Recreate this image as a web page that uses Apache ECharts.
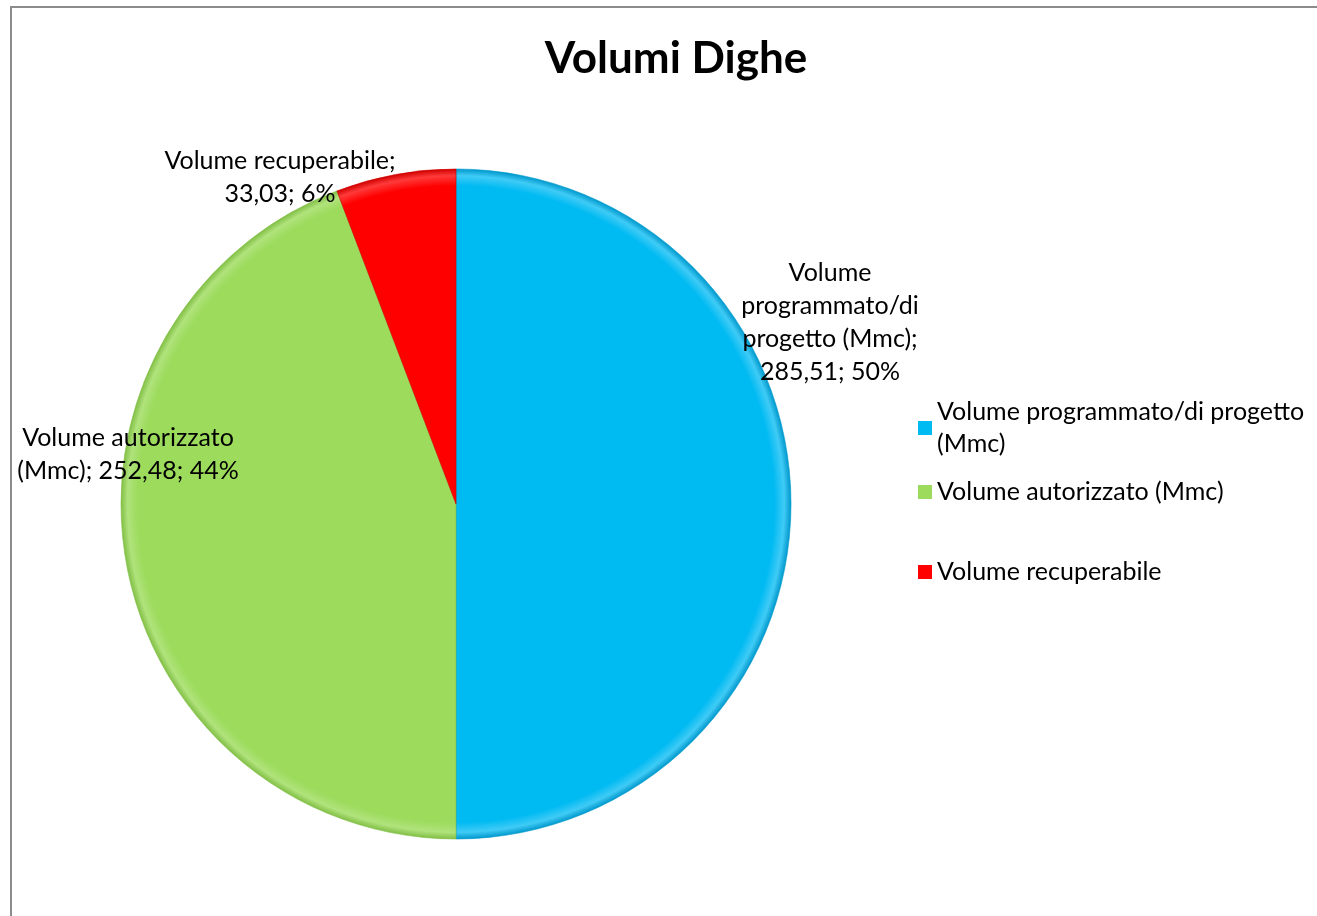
<!DOCTYPE html>
<html>
<head>
<meta charset="utf-8">
<style>
  html, body { margin: 0; padding: 0; background: #fff; }
  #frame { position: absolute; left: 10px; top: 6px; width: 1400px; height: 1000px;
           border-left: 2px solid #8c8c8c; border-top: 2px solid #8c8c8c; }
  #chart { position: absolute; left: 0; top: 0; width: 1317px; height: 916px; }
</style>
<script src="https://cdn.jsdelivr.net/npm/echarts@6/dist/echarts.min.js"></script>
</head>
<body>
<div id="frame"></div>
<div id="chart"></div>
<script>
  // data
  var categories = ['Volume programmato/di progetto (Mmc)', 'Volume autorizzato (Mmc)', 'Volume recuperabile'];
  var values = [285.51, 252.48, 33.03];
  var labelNames = ['Volume\nprogrammato/di\nprogetto (Mmc);', 'Volume autorizzato\n(Mmc);', 'Volume recuperabile;'];
  var legendNames = ['Volume programmato/di progetto\n(Mmc)', 'Volume autorizzato (Mmc)', 'Volume recuperabile'];

  var colors = ['#00BAF2', '#9CDB5C', '#FF0000'];
  var edgeLight = ['#40CBF6', '#B0E37C', '#FF3A3A'];
  var edgeDark = ['#0098CC', '#82BF46', '#D00000'];
  var labelPos = [[830, 322], [128, 454], [280, 177]];
  var fontFam = 'Lato, "Open Sans", sans-serif';

  function fmtNum(v) {
    return v.toFixed(2).replace('.', ',');
  }

  var cx = 456, cy = 504, rad = 335;

  var pieData = categories.map(function (c, i) {
    return {
      name: c,
      value: values[i],
      itemStyle: {
        color: {
          type: 'radial', x: cx, y: cy, r: rad, global: true,
          colorStops: [
            {offset: 0, color: colors[i]},
            {offset: 0.95, color: colors[i]},
            {offset: 0.98, color: edgeLight[i]},
            {offset: 1, color: edgeDark[i]}
          ]
        },
        borderColor: edgeDark[i],
        borderWidth: 0.6
      }
    };
  });

  var legends = categories.map(function (c, i) {
    return {
      data: [{name: c, itemStyle: {color: colors[i], borderWidth: 0}}],
      left: 913,
      top: 391 + i * 80,
      orient: 'vertical',
      icon: 'rect',
      itemWidth: 14,
      itemHeight: 14,
      itemGap: 8,
      selectedMode: false,
      itemStyle: { borderWidth: 0 },
      formatter: function () { return legendNames[i]; },
      textStyle: { fontFamily: fontFam, fontSize: 25, color: '#000', lineHeight: 32 }
    };
  });

  var myChart = echarts.init(document.getElementById('chart'));
  myChart.setOption({
    animation: false,
    color: colors,
    title: {
      text: 'Volumi Dighe',
      left: 671,
      top: 32,
      textAlign: 'center',
      textStyle: { fontFamily: fontFam, fontSize: 44, fontWeight: 'bold', color: '#000' }
    },
    legend: legends,
    series: [
      {
        type: 'pie',
        center: [cx, cy],
        radius: rad,
        startAngle: 90,
        clockwise: true,
        percentPrecision: 0,
        data: pieData,
        label: {
          show: true,
          position: 'outside',
          overflow: 'none',
          bleedMargin: 0,
          fontFamily: fontFam,
          fontSize: 25,
          lineHeight: 33,
          color: '#000',
          align: 'center',
          formatter: function (p) {
            var sep = p.dataIndex === 1 ? ' ' : '\n';
            return labelNames[p.dataIndex] + sep + fmtNum(p.value) + '; ' + Math.round(p.percent) + '%';
          }
        },
        labelLine: { show: false },
        labelLayout: function (p) {
          return {
            x: labelPos[p.dataIndex][0],
            y: labelPos[p.dataIndex][1],
            align: 'center',
            verticalAlign: 'middle',
            hideOverlap: false,
            moveOverlap: false
          };
        },
        emphasis: { disabled: true }
      }
    ]
  });
</script>
</body>
</html>
